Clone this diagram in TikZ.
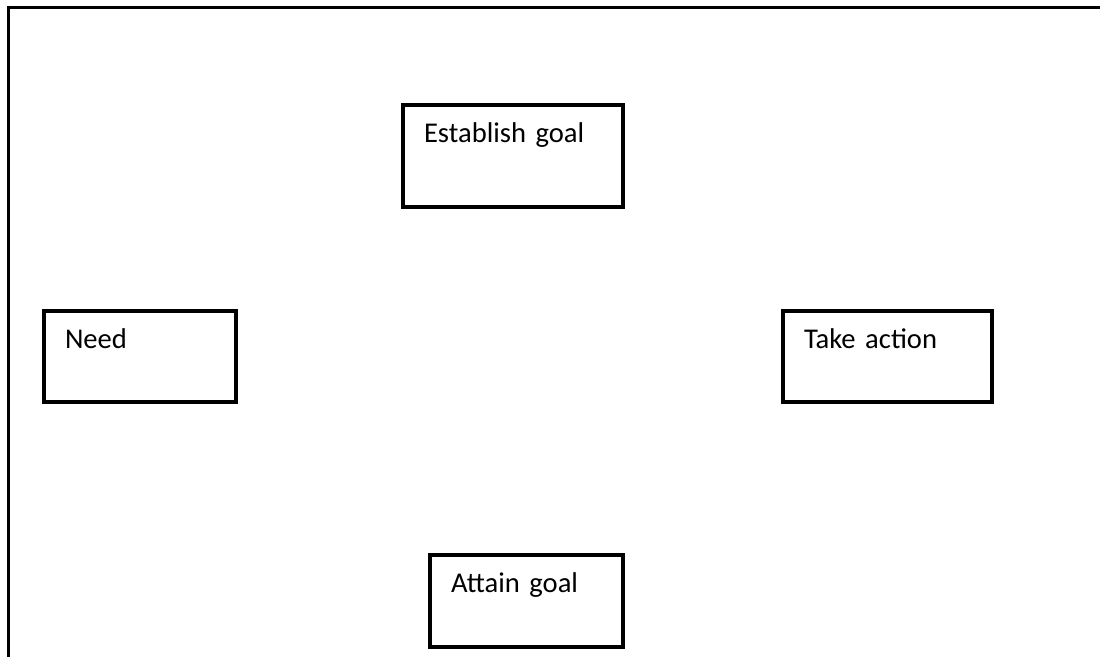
\documentclass[tikz,border=0pt]{standalone}
\usepackage{fontspec}
\setmainfont{Carlito}
\usepackage{tikz}
\usetikzlibrary{positioning}

\tikzset{
  stage/.style = {
    draw, line width = 1.7pt, rectangle, align = left,
    inner xsep = 10.5pt, inner ysep = 0pt,
    text height = 19pt, font = \fontsize{14.3}{16}\selectfont,
  },
}

\begin{document}
\begin{tikzpicture}[x = 0.5pt, y = -0.5pt]
        \useasboundingbox (0,0) rectangle (1100,657);

        % outer frame, cut by the page
        \draw[line width = 1.8pt] (8.5,657) -- (8.5,7.5) -- (1100,7.5);

        \node[stage, text width = 89pt, text depth = 32pt] (goal) at (513,156) {Establish goal};
        \node[stage, text width = 75pt, text depth = 26.5pt] (need) at (140,356.5) {Need};
        \node[stage, text width = 83.5pt, text depth = 26.5pt] (action) at (887.5,356.5) {Take action};
        \node[stage, text width = 75.5pt, text depth = 27pt] (attain) at (526.5,601) {Attain goal};

      \end{tikzpicture}
\end{document}
